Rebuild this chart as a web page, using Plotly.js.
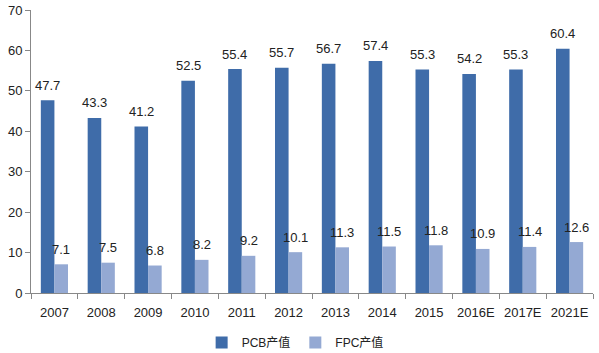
<!DOCTYPE html>
<html><head><meta charset="utf-8">
<script src="https://cdn.plot.ly/plotly-3.0.1.min.js"></script>
<style>html,body{margin:0;padding:0;background:#fff;}#chart{width:599px;height:353px;}</style>
</head><body><div id="chart"></div>
<script>
const years = ["2007","2008","2009","2010","2011","2012","2013","2014","2015","2016E","2017E","2021E"];
const pcb = [47.7,43.3,41.2,52.5,55.4,55.7,56.7,57.4,55.3,54.2,55.3,60.4];
const fpc = [7.1,7.5,6.8,8.2,9.2,10.1,11.3,11.5,11.8,10.9,11.4,12.6];
const font = {family:"Liberation Sans, Noto Sans CJK SC, sans-serif", size:12, color:"#222"};
const lblfont = {family:"Liberation Sans, Noto Sans CJK SC, sans-serif", size:13, color:"#222"};
const bargap = 0.42;
const half = (1 - bargap) / 4;
const traces = [
 {type:"bar", name:"PCB产值", x:years, y:pcb, marker:{color:"#3F6CA9"}},
 {type:"bar", name:"FPC产值", x:years, y:fpc, marker:{color:"#94A9D3"}}
];
const annotations = [];
years.forEach((yr, i) => {
  annotations.push({x:i - half, y:pcb[i], xref:"x", yref:"y", text:pcb[i].toFixed(1), showarrow:false, yanchor:"middle", yshift:15, font:lblfont});
  annotations.push({x:i + half, y:fpc[i], xref:"x", yref:"y", text:fpc[i].toFixed(1), showarrow:false, yanchor:"middle", yshift:15, font:lblfont});
});
const layout = {
 width:599, height:353, margin:{l:31,r:6,t:10,b:60, autoexpand:false},
 paper_bgcolor:"#fff", plot_bgcolor:"#fff", font:font,
 barmode:"group", bargap:bargap, bargroupgap:0,
 showlegend:true, annotations:annotations,
 legend:{orientation:"h", x:0.47, xanchor:"center", y:-0.175, yanchor:"middle", font:font, itemwidth:30, traceorder:"normal"},
 xaxis:{type:"category", showline:true, linecolor:"#888", linewidth:1, ticks:"outside", tickson:"boundaries", ticklen:5, tickcolor:"#888", showgrid:false, tickfont:lblfont, tickangle:0, ticklabelstandoff:7, automargin:false},
 yaxis:{range:[0,70], dtick:10, showline:true, linecolor:"#888", linewidth:1, ticks:"outside", ticklen:5, tickcolor:"#888", showgrid:false, zeroline:false, tickfont:lblfont, automargin:false}
};
Plotly.newPlot("chart", traces, layout, {displayModeBar:false, staticPlot:true});
</script></body></html>
